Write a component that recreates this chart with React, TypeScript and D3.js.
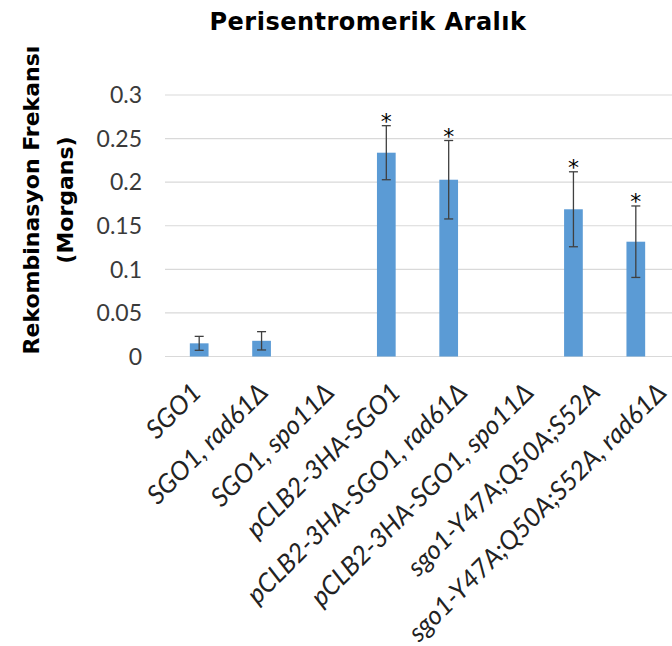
import React from "react";
import * as d3 from "d3";

const categories = [
  "SGO1",
  "SGO1, rad61Δ",
  "SGO1, spo11Δ",
  "pCLB2-3HA-SGO1",
  "pCLB2-3HA-SGO1, rad61Δ",
  "pCLB2-3HA-SGO1, spo11Δ",
  "sgo1-Y47A;Q50A;S52A",
  "sgo1-Y47A;Q50A;S52A, rad61Δ",
];
const values = [0.0151, 0.018, 0, 0.2338, 0.2028, 0, 0.1689, 0.1317];
const errors = [0.008, 0.0105, 0, 0.031, 0.045, 0, 0.043, 0.041];
const significant = [false, false, false, true, true, false, true, true];
const yTicks = [0, 0.05, 0.1, 0.15, 0.2, 0.25, 0.3];

const W = 672;
const H = 646;
const left = 168;
const right = 667;
const top = 95;
const bottom = 356.5;

export default function App() {
  const x = d3.scaleBand<string>().domain(categories).range([left, right]).paddingInner(0.7).paddingOuter(0.35);
  const xl = d3.scalePoint<string>().domain(categories).range([203, 668]);
  const y = d3.scaleLinear().domain([0, 0.3]).range([bottom, top]);
  const bw = x.bandwidth();
  const bold = "'DejaVu Sans', sans-serif";
  const font = "Lato, 'Open Sans', sans-serif";
  return (
    <svg width={W} height={H} style={{ position: "absolute", left: 0, top: 0, background: "#fff" }} fontFamily={font}>
      <rect width={W} height={H} fill="#fff" />
      <text x={368} y={30} textAnchor="middle" fontFamily={bold} fontWeight="bold" fontSize={24} letterSpacing={0.5} fill="#000">
        Perisentromerik Aralık
      </text>
      <g transform="translate(39,200) rotate(-90)">
        <text textAnchor="middle" fontFamily={bold} fontWeight="bold" fontSize={22} fill="#000">Rekombinasyon Frekansı</text>
        <text y={34} textAnchor="middle" fontFamily={bold} fontWeight="bold" fontSize={22} fill="#000">(Morgans)</text>
      </g>
      {yTicks.map((t) => (
        <g key={t}>
          <line x1={165} x2={W} y1={y(t)} y2={y(t)} stroke="#d9d9d9" strokeWidth={1.2} />
          <text x={142} y={y(t)} dy="0.36em" textAnchor="end" fontSize={23} fill="#3a3a3a">
            {d3.format("")(t)}
          </text>
        </g>
      ))}
      {categories.map((c, i) => {
        const cx = (x(c) as number) + bw / 2;
        const v = values[i];
        const e = errors[i];
        return (
          <g key={c}>
            {v > 0 && (
              <rect x={x(c)} y={y(v)} width={bw} height={y(0) - y(v)} fill="#5b9bd5" />
            )}
            {e > 0 && (
              <g stroke="#404040" strokeWidth={1.3}>
                <line x1={cx} x2={cx} y1={y(v + e)} y2={y(v - e)} />
                <line x1={cx - 4.5} x2={cx + 4.5} y1={y(v + e)} y2={y(v + e)} />
                <line x1={cx - 4.5} x2={cx + 4.5} y1={y(v - e)} y2={y(v - e)} />
              </g>
            )}
            {significant[i] && (
              <text x={cx} y={y(v + e) + 3} textAnchor="middle" fontFamily={bold} fontSize={22} fill="#000">*</text>
            )}
            <text
              transform={`translate(${xl(c)},${394}) rotate(-45)`}
              textAnchor="end"
              fontStyle="italic"
              fontSize={26}
              fill="#222"
            >
              {c}
            </text>
          </g>
        );
      })}
    </svg>
  );
}
